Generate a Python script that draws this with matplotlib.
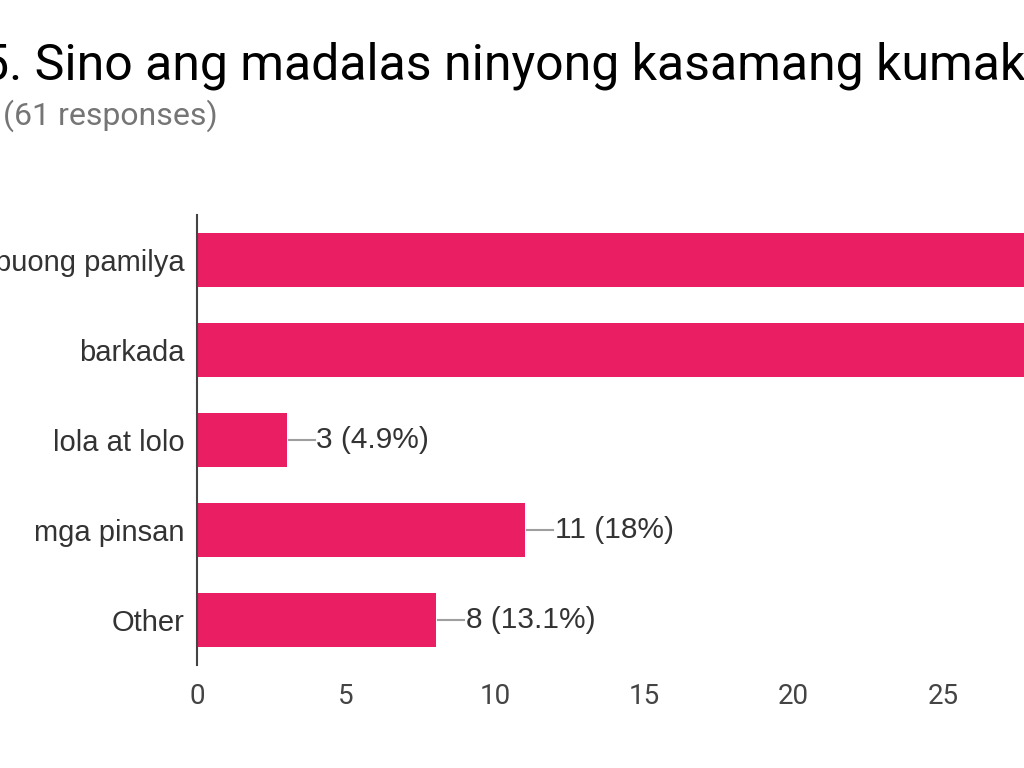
import matplotlib.pyplot as plt

plt.rcParams['font.family'] = ['Roboto', 'DejaVu Sans']

categories = ['buong pamilya', 'barkada', 'lola at lolo', 'mga pinsan', 'Other']
counts = [36, 31, 3, 11, 8]
labels = ['36 (59%)', '31 (50.8%)', '3 (4.9%)', '11 (18%)', '8 (13.1%)']
xticks = [0, 5, 10, 15, 20, 25, 30, 35]

pink = '#E91E63'
label_font = ['Liberation Sans', 'DejaVu Sans']

fig = plt.figure(figsize=(10.24, 7.68), dpi=100)
# axis 0 sits at x=197px, 5 units every ~149px; the chart runs off the right edge
unit = (943 - 197) / 25
xmax = 35
ax = fig.add_axes([197 / 1024, 103 / 768, xmax * unit / 1024, 450 / 768])

y = list(range(len(categories)))
ax.barh(y, counts, height=0.61, color=pink)
ax.set_ylim(len(categories) - 0.5, -0.5)
ax.set_xlim(0, xmax)

for i, (v, lab) in enumerate(zip(counts, labels)):
    ax.plot([v + 0.07, v + 0.94], [i, i], color='#9e9e9e', lw=1.5)
    ax.text(v + 1.0, i, lab, va='center', ha='left', fontsize=21.5,
            color='#333333', family=label_font)

ax.set_yticks(y)
ax.set_yticklabels(categories, fontsize=21, color='#333333', family=label_font)
ax.set_xticks(xticks)
ax.set_xticklabels([str(t) for t in xticks], fontsize=20, color='#444444')
ax.tick_params(axis='y', length=0, pad=9)
ax.tick_params(axis='x', length=0, pad=13)

for s in ['top', 'right', 'bottom']:
    ax.spines[s].set_visible(False)
ax.spines['left'].set_color('#444444')
ax.spines['left'].set_linewidth(1.5)

fig.text(-19 / 1024, 1 - 80 / 768, '5. Sino ang madalas ninyong kasamang kumakain?',
         fontsize=36, color='#000000', ha='left', va='baseline')
fig.text(3 / 1024, 1 - 125 / 768, '(61 responses)',
         fontsize=23, color='#757575', ha='left', va='baseline')

fig.savefig('out.png', dpi=100)
